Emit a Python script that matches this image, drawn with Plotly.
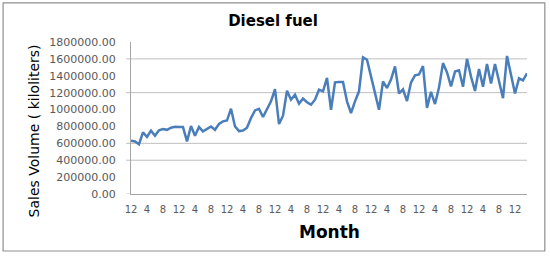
import plotly.graph_objects as go

# Monthly diesel fuel sales volume (kiloliters), first point is a December
sales_k = [630, 623, 590, 730, 675, 750, 690, 755, 770, 760,
           785, 795, 793, 793, 623, 805, 690, 793, 742, 770,
           800, 760, 830, 860, 870, 1010, 800, 745, 752, 785,
           900, 990, 1008, 912, 998, 1097, 1243, 828, 927, 1223,
           1117, 1176, 1070, 1129, 1086, 1058, 1117, 1235, 1216, 1374,
           998, 1322, 1326, 1326, 1097, 959, 1097, 1216, 1618, 1590,
           1393, 1196, 998, 1334, 1255, 1354, 1512, 1190, 1240, 1100,
           1320, 1405, 1415, 1515, 1020, 1210, 1065, 1260, 1550, 1440,
           1275, 1450, 1465, 1270, 1600, 1390, 1220, 1480, 1270, 1540,
           1310, 1540, 1350, 1135, 1635, 1400, 1190, 1370, 1345, 1430]
sales = [v * 1000 for v in sales_k]
x_idx = list(range(len(sales)))
month_cycle = [12, 1, 2, 3, 4, 5, 6, 7, 8, 9, 10, 11]
month_labels = [str(month_cycle[i % 12]) for i in x_idx]
x_tick_idx = x_idx[::4]
x_tick_text = [month_labels[i] for i in x_tick_idx]
y_tick_vals = [0, 200000, 400000, 600000, 800000, 1000000, 1200000, 1400000, 1600000, 1800000]
y_tick_text = ["%.2f" % v for v in y_tick_vals]
grid_vals = [400000, 600000, 1200000, 1600000]

fig = go.Figure()
fig.add_trace(go.Scatter(x=x_idx, y=sales, mode="lines",
                         line=dict(color="#4A7EBB", width=2.5),
                         hoverinfo="skip", showlegend=False))

shapes = []
for g in grid_vals:
    shapes.append(dict(type="line", xref="paper", yref="y", x0=-0.012, x1=1,
                       y0=g, y1=g, line=dict(color="#BFBFBF", width=1), layer="below"))
shapes.append(dict(type="line", xref="paper", yref="y", x0=-0.012, x1=0,
                   y0=0, y1=0, line=dict(color="#BFBFBF", width=1), layer="below"))
shapes.append(dict(type="rect", xref="paper", yref="paper", x0=-0.323, x1=1.045,
                   y0=-0.375, y1=1.257, line=dict(color="#909090", width=1.2)))

fig.update_layout(
    width=550, height=263,
    margin=dict(l=131, r=23, t=42, b=69),
    paper_bgcolor="white", plot_bgcolor="white",
    shapes=shapes,
    title=dict(text="<b>Diesel fuel</b>", x=0.4964, xref="container", xanchor="center",
               y=0.92, yref="container", yanchor="middle",
               font=dict(family="DejaVu Sans", size=15, color="#000000")),
    xaxis=dict(range=[0, len(sales) - 1], tickmode="array", tickvals=x_tick_idx,
               ticktext=x_tick_text, showgrid=False, zeroline=False,
               showline=True, linecolor="#A6A6A6", linewidth=1, ticks="",
               tickfont=dict(family="DejaVu Sans", size=10, color="#595959"),
               ticklabelstandoff=6),
    yaxis=dict(range=[0, 1800000], tickmode="array", tickvals=y_tick_vals,
               ticktext=y_tick_text, showgrid=False, zeroline=False,
               showline=True, linecolor="#A6A6A6", linewidth=1, ticks="",
               tickfont=dict(family="DejaVu Sans", size=11, color="#595959"),
               ticklabelstandoff=12),
    annotations=[
        dict(text="Sales Volume ( kiloliters)", xref="paper", yref="paper",
             x=-0.245, y=0.418, showarrow=False, textangle=-90,
             xanchor="center", yanchor="middle",
             font=dict(family="DejaVu Sans", size=14, color="#000000")),
        dict(text="<b>Month</b>", xref="paper", yref="paper",
             x=0.501, y=-0.25, showarrow=False, xanchor="center", yanchor="middle",
             font=dict(family="DejaVu Sans", size=17, color="#000000")),
    ],
)

fig.write_html("out.html")
